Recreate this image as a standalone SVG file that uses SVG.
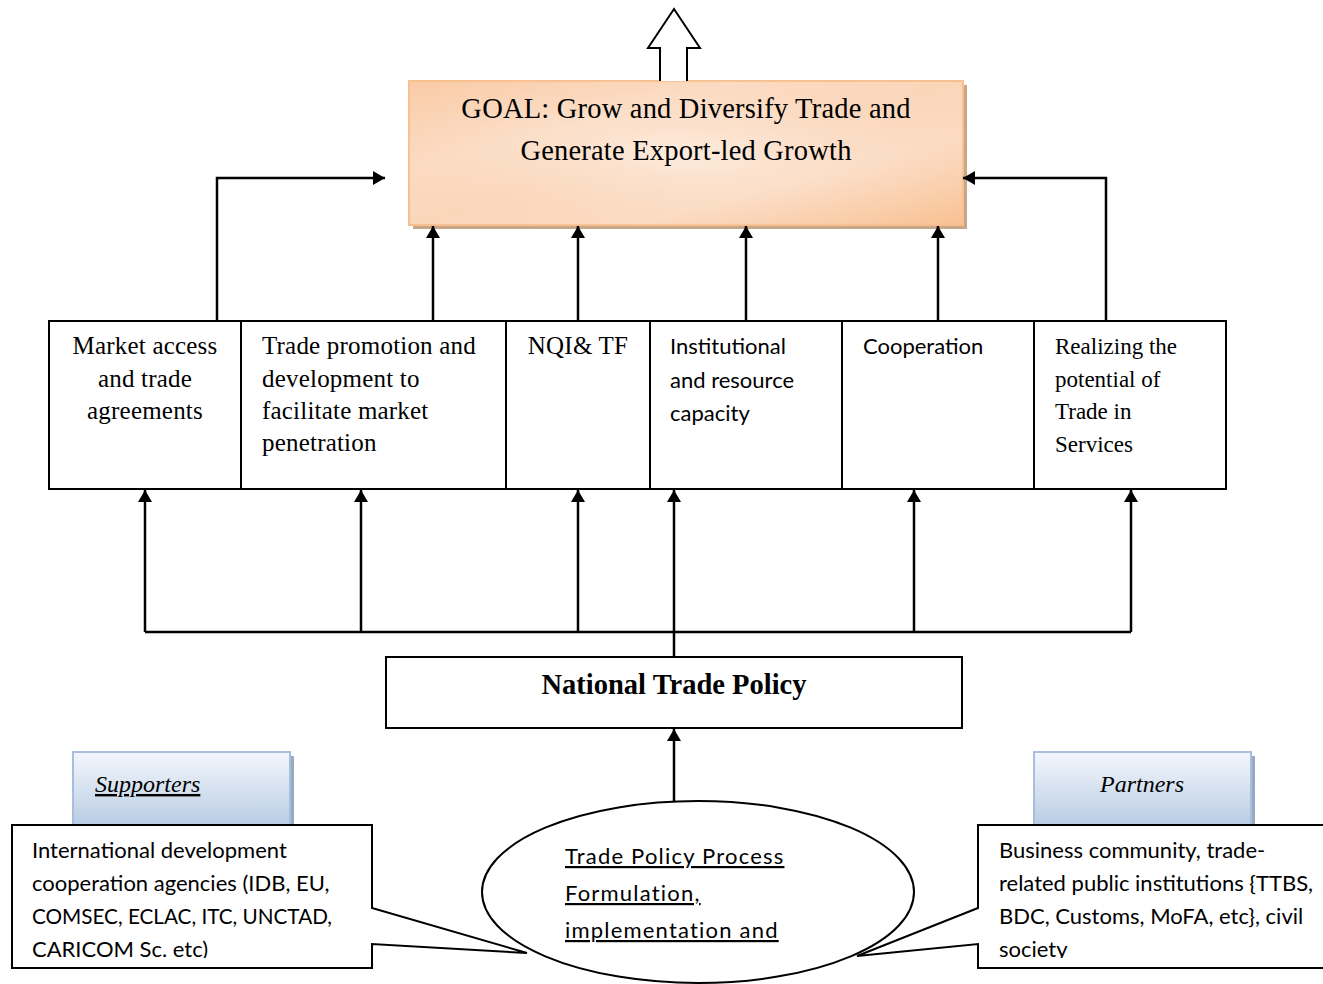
<svg xmlns="http://www.w3.org/2000/svg" width="1323" height="984" viewBox="0 0 1323 984">
<style>
.box{fill:#fff;stroke:#000;stroke-width:2}
.ln{fill:none;stroke:#000;stroke-width:2.5}
.cam{font-family:"Liberation Serif","DejaVu Serif",serif;font-size:25px;letter-spacing:0.2px;fill:#000}
.gdy{font-family:"Liberation Serif",serif;fill:#000}
.cal{font-family:Lato,"Open Sans",sans-serif;font-size:22px;fill:#000}
</style>
<defs>
<marker id="a" viewBox="0 0 12 14" refX="12" refY="7" markerWidth="12" markerHeight="14" markerUnits="userSpaceOnUse" orient="auto">
<path d="M0,0 L12,7 L0,14 z" fill="#000"/>
</marker>
<linearGradient id="og" x1="0" y1="0" x2="1" y2="1">
<stop offset="0" stop-color="#FBD3B2"/>
<stop offset="0.3" stop-color="#FDEADB"/>
<stop offset="0.5" stop-color="#FCE3CF"/>
<stop offset="0.7" stop-color="#FDEADB"/>
<stop offset="1" stop-color="#F9C496"/>
</linearGradient>
<radialGradient id="og2" cx="0.5" cy="0.5" r="0.7">
<stop offset="0" stop-color="#FDEEE2" stop-opacity="0.8"/>
<stop offset="1" stop-color="#F7B888" stop-opacity="0.3"/>
</radialGradient>
<linearGradient id="bg" x1="0" y1="0" x2="0" y2="1">
<stop offset="0" stop-color="#F4F7FC"/>
<stop offset="1" stop-color="#B8CCE4"/>
</linearGradient>
<clipPath id="cl"><rect x="12" y="825" width="360" height="133"/></clipPath>
<clipPath id="cr"><rect x="978" y="825" width="345" height="133"/></clipPath>
</defs>

<g id="goal">
<rect x="413" y="85" width="554" height="144" fill="#C8A688"/>
<rect x="409" y="81" width="554" height="144" fill="url(#og)" stroke="#F9C08F" stroke-width="2"/>
<rect x="409" y="81" width="554" height="144" fill="url(#og2)"/>
<text class="gdy" font-size="28.5" letter-spacing="0.2" text-anchor="middle" x="686" y="118">GOAL: Grow and Diversify Trade and</text>
<text class="gdy" font-size="28.5" letter-spacing="0.2" text-anchor="middle" x="686" y="160">Generate Export-led Growth</text>
</g>

<g id="up-arrow">
<path d="M660,81 L660,48 L648,48 L674,9 L700,48 L687,48 L687,81" fill="#fff" stroke="#000" stroke-width="2"/>
</g>

<g id="b1"><rect class="box" x="49" y="321" width="192" height="168"/>
<text class="cam" text-anchor="middle"><tspan x="145" y="354">Market access</tspan><tspan x="145" y="387">and trade</tspan><tspan x="145" y="419">agreements</tspan></text></g>
<g id="b2"><rect class="box" x="241" y="321" width="265" height="168"/>
<text class="cam"><tspan x="262" y="354">Trade promotion and</tspan><tspan x="262" y="387">development to</tspan><tspan x="262" y="419">facilitate market</tspan><tspan x="262" y="451">penetration</tspan></text></g>
<g id="b3"><rect class="box" x="506" y="321" width="144" height="168"/>
<text class="cam" text-anchor="middle" x="578" y="354">NQI&amp; TF</text></g>
<g id="b4"><rect class="box" x="650" y="321" width="192" height="168"/>
<text class="cal" font-size="22.5"><tspan x="670" y="354">Institutional</tspan><tspan x="670" y="388">and resource</tspan><tspan x="670" y="421">capacity</tspan></text></g>
<g id="b5"><rect class="box" x="842" y="321" width="192" height="168"/>
<text class="cal" x="863" y="354">Cooperation</text></g>
<g id="b6"><rect class="box" x="1034" y="321" width="192" height="168"/>
<text class="gdy" font-size="23" fill="#333"><tspan x="1055" y="354">Realizing the</tspan><tspan x="1055" y="387">potential of</tspan><tspan x="1055" y="419">Trade in</tspan><tspan x="1055" y="452">Services</tspan></text></g>

<g id="ntp"><rect class="box" x="386" y="657" width="576" height="71"/>
<text class="gdy" font-size="28.5" font-weight="bold" text-anchor="middle" x="674" y="694">National Trade Policy</text></g>

<g id="process">
<ellipse cx="698" cy="892" rx="216" ry="91" fill="#fff" stroke="#000" stroke-width="2"/>
<text class="cal" font-size="24" letter-spacing="1.2" text-decoration="underline"><tspan x="565" y="864">Trade Policy Process</tspan><tspan x="565" y="901">Formulation,</tspan><tspan x="565" y="938">implementation and</tspan></text>
</g>

<g id="supporters">
<rect x="77" y="756" width="217" height="72" fill="#98A9C2"/>
<rect x="73" y="752" width="217" height="74" fill="url(#bg)" stroke="#A7BEDC" stroke-width="2"/>
<text class="gdy" font-size="24" font-style="italic" text-decoration="underline" x="95" y="792">Supporters</text>
</g>
<g id="partners">
<rect x="1038" y="756" width="217" height="72" fill="#98A9C2"/>
<rect x="1034" y="752" width="217" height="74" fill="url(#bg)" stroke="#A7BEDC" stroke-width="2"/>
<text class="gdy" font-size="24" font-style="italic" text-anchor="middle" x="1142" y="792">Partners</text>
</g>

<g id="callout-left">
<path d="M12,825 L372,825 L372,908 L527,953 L372,944 L372,968 L12,968 Z" fill="#fff" stroke="#000" stroke-width="2"/>
<text class="cal" clip-path="url(#cl)"><tspan x="32" y="858">International development</tspan><tspan x="32" y="891">cooperation agencies (IDB, EU,</tspan><tspan x="32" y="924" textLength="300" lengthAdjust="spacingAndGlyphs">COMSEC, ECLAC, ITC, UNCTAD,</tspan><tspan x="32" y="957">CARICOM Sc. etc)</tspan></text>
</g>
<g id="callout-right">
<path d="M1330,825 L978,825 L978,908 L857,956 L978,944 L978,968 L1330,968" fill="#fff" stroke="#000" stroke-width="2"/>
<text class="cal" clip-path="url(#cr)"><tspan x="999" y="858">Business community, trade-</tspan><tspan x="999" y="891">related public institutions {TTBS,</tspan><tspan x="999" y="924">BDC, Customs, MoFA, etc}, civil</tspan><tspan x="999" y="957">society</tspan></text>
</g>

<g id="connectors">
<path class="ln" d="M217,321 V178 H385" marker-end="url(#a)"/>
<path class="ln" d="M1106,321 V178 H963" marker-end="url(#a)"/>
<path class="ln" d="M433,321 V226" marker-end="url(#a)"/>
<path class="ln" d="M578,321 V226" marker-end="url(#a)"/>
<path class="ln" d="M746,321 V226" marker-end="url(#a)"/>
<path class="ln" d="M938,321 V226" marker-end="url(#a)"/>
<path class="ln" d="M145,632 H1131"/>
<path class="ln" d="M145,632 V490" marker-end="url(#a)"/>
<path class="ln" d="M361,632 V490" marker-end="url(#a)"/>
<path class="ln" d="M578,632 V490" marker-end="url(#a)"/>
<path class="ln" d="M674,657 V490" marker-end="url(#a)"/>
<path class="ln" d="M914,632 V490" marker-end="url(#a)"/>
<path class="ln" d="M1131,632 V490" marker-end="url(#a)"/>
<path class="ln" d="M674,801 V729" marker-end="url(#a)"/>
</g>
</svg>
